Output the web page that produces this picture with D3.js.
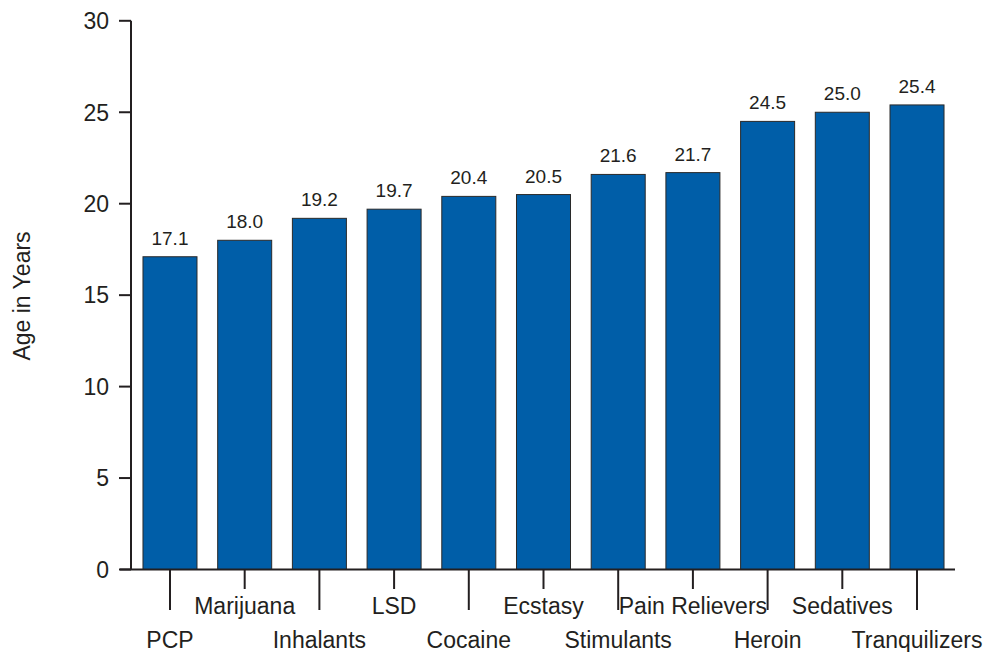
<!DOCTYPE html>
<html>
<head>
<meta charset="utf-8">
<script src="https://cdn.jsdelivr.net/npm/d3@7"></script>
<style>
  body { margin: 0; background: #fff; }
  svg { display: block; }
  text { font-family: "Liberation Sans", Arial, Helvetica, sans-serif; fill: #231f20; }
</style>
</head>
<body>
<svg id="chart" width="984" height="652"></svg>
<script>
const categories = ["PCP", "Marijuana", "Inhalants", "LSD", "Cocaine", "Ecstasy", "Stimulants", "Pain Relievers", "Heroin", "Sedatives", "Tranquilizers"];
const values = [17.1, 18.0, 19.2, 19.7, 20.4, 20.5, 21.6, 21.7, 24.5, 25.0, 25.4];
const yTicks = [0, 5, 10, 15, 20, 25, 30];
const yTitle = "Age in Years";

const svg = d3.select("#chart");
const axisColor = "#231f20";
const barColor = "#005ea8";

const x = d3.scaleBand().domain(categories).range([132, 955]).paddingInner(0.277).paddingOuter(0.147);
const y = d3.scaleLinear().domain([0, 30]).range([569.5, 20.8]);

// bars
svg.selectAll("rect.bar").data(values).enter().append("rect")
  .attr("class", "bar")
  .attr("x", (d, i) => x(categories[i]))
  .attr("y", d => y(d))
  .attr("width", x.bandwidth())
  .attr("height", d => y(0) - y(d))
  .attr("fill", barColor)
  .attr("stroke", "#2a2a2a")
  .attr("stroke-width", 1);

// value labels
svg.selectAll("text.val").data(values).enter().append("text")
  .attr("class", "val")
  .attr("x", (d, i) => x(categories[i]) + x.bandwidth() / 2)
  .attr("y", d => y(d) - 12)
  .attr("text-anchor", "middle")
  .attr("font-size", 19)
  .text(d => d.toFixed(1));

// y axis
const yAxis = svg.append("g");
yAxis.append("line").attr("x1", 131).attr("x2", 131).attr("y1", y(30)).attr("y2", y(0))
  .attr("stroke", axisColor).attr("stroke-width", 2);
yAxis.selectAll("line.tk").data(yTicks).enter().append("line")
  .attr("class", "tk")
  .attr("x1", 119).attr("x2", 131)
  .attr("y1", d => y(d)).attr("y2", d => y(d))
  .attr("stroke", axisColor).attr("stroke-width", 2);
yAxis.selectAll("text").data(yTicks).enter().append("text")
  .attr("x", 109).attr("y", d => y(d)).attr("dy", "0.36em")
  .attr("text-anchor", "end").attr("font-size", 23)
  .text(d => d);

// y title
svg.append("text")
  .attr("transform", "translate(30," + 296 + ") rotate(-90)")
  .attr("text-anchor", "middle").attr("font-size", 23)
  .text(yTitle);

// x axis line
svg.append("line").attr("x1", 120).attr("x2", 955).attr("y1", y(0)).attr("y2", y(0))
  .attr("stroke", axisColor).attr("stroke-width", 2);

// category ticks and labels
const cx = c => x(c) + x.bandwidth() / 2;
svg.selectAll("line.ct").data(categories).enter().append("line")
  .attr("class", "ct")
  .attr("x1", d => cx(d)).attr("x2", d => cx(d))
  .attr("y1", y(0)).attr("y2", (d, i) => i % 2 === 0 ? 610 : 589)
  .attr("stroke", axisColor).attr("stroke-width", 2);
svg.selectAll("text.cat").data(categories).enter().append("text")
  .attr("class", "cat")
  .attr("x", d => cx(d))
  .attr("y", (d, i) => i % 2 === 0 ? 648 : 614)
  .attr("text-anchor", "middle").attr("font-size", 23)
  .text(d => d);
</script>
</body>
</html>
